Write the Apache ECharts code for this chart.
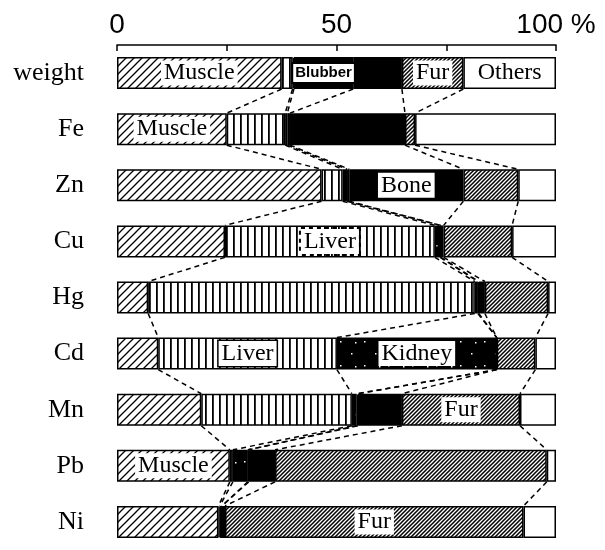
<!DOCTYPE html>
<html><head><meta charset="utf-8">
<script src="https://cdn.jsdelivr.net/npm/echarts@6/dist/echarts.min.js"></script>
<style>html,body{margin:0;padding:0;background:#fff}#c{width:605px;height:550px}</style>
</head><body><div id="c"></div>
<script>
// ---- data (percent of total) ----
const categories = ['weight','Fe','Zn','Cu','Hg','Cd','Mn','Pb','Ni'];
const tissues = ['Muscle','Liver','Kidney','Blubber','Bone','Fur','Others'];
const muscle  = [37.5, 25.0, 46.6, 24.6,  7.1,  9.4, 19.2, 25.7, 23.1];
const liver   = [ 2.5, 13.3,  4.8, 47.8, 74.4, 40.7, 34.3,  0.7,  0.3];
const kidney  = [ 0.3,  0.5,  1.0,  1.2,  0.7, 36.4,  1.1,  3.4,  0.5];
const blubber = [13.5,  0.6,  0.5,  0.2,  0.2,  0.0,  0.3,  0.2,  0.0];
const bone    = [11.1, 26.2, 26.0,  0.6,  1.4,  0.0, 10.0,  6.0,  0.7];
const fur     = [14.0,  2.3, 12.5, 15.6, 14.4,  8.8, 26.9, 61.9, 68.0];
const others  = [21.1, 32.1,  8.6, 10.0,  1.8,  4.7,  8.2,  2.1,  7.4];
const xTicks = [0, 25, 50, 75, 100];
const xTickLabels = ['0', '', '50', '', '100 %'];
const segLabels = [['weight','Muscle'],['weight','Blubber'],['weight','Fur'],['weight','Others'],
  ['Fe','Muscle'],['Zn','Bone'],['Cu','Liver'],['Cd','Liver'],['Cd','Kidney'],
  ['Mn','Fur'],['Pb','Muscle'],['Ni','Fur']];

const values = [muscle, liver, kidney, blubber, bone, fur, others];

// ---- fills ----
function hatch(size, lw) {
  const c = document.createElement('canvas'); c.width = c.height = size;
  const g = c.getContext('2d'); g.fillStyle = '#fff'; g.fillRect(0, 0, size, size);
  g.strokeStyle = '#000'; g.lineWidth = lw; g.beginPath();
  g.moveTo(-1, size + 1); g.lineTo(size + 1, -1);
  g.moveTo(-1, 1); g.lineTo(1, -1);
  g.moveTo(size - 1, size + 1); g.lineTo(size + 1, size - 1);
  g.stroke(); return c;
}
function vlines(w, lw) {
  const c = document.createElement('canvas'); c.width = w; c.height = 4;
  const g = c.getContext('2d'); g.fillStyle = '#fff'; g.fillRect(0, 0, w, 4);
  g.fillStyle = '#000'; g.fillRect(2, 0, lw, 4); return c;
}
function speckle() {
  const c = document.createElement('canvas'); c.width = c.height = 24;
  const g = c.getContext('2d'); g.fillStyle = '#000'; g.fillRect(0, 0, 24, 24);
  g.fillStyle = '#fff';
  [[4,5],[15,17],[19,6]].forEach(p => g.fillRect(p[0], p[1], 1.5, 1.5));
  return c;
}
const fills = [
  {image: hatch(8, 1.3), repeat: 'repeat'},
  {image: vlines(7, 1.8), repeat: 'repeat'},
  {image: speckle(), repeat: 'repeat'},
  '#000', '#000',
  {image: hatch(4, 1.5), repeat: 'repeat'},
  '#fff'
];

const BAR_W = 32;
const baseLabel = {show: true, position: 'inside', formatter: '{a}', fontFamily: 'Liberation Serif',
  fontSize: 24, color: '#000', backgroundColor: '#fff', padding: [1, 3, 0, 3]};
function labelFor(cat, t) {
  if (!segLabels.some(p => p[0] === cat && p[1] === t)) return undefined;
  if (t === 'Blubber') return Object.assign({}, baseLabel, {fontFamily: 'Liberation Sans', fontWeight: 'bold',
    fontSize: 15, borderColor: '#000', borderWidth: 2, padding: [2, 2, 1, 2]});
  if (cat === 'Cu' && t === 'Liver') return Object.assign({}, baseLabel, {borderColor: '#000', borderWidth: 2, borderType: 'dotted'});
  if (cat === 'Cd' && t === 'Liver') return Object.assign({}, baseLabel, {borderColor: '#000', borderWidth: 1.5});
  return baseLabel;
}

const barSeries = tissues.map((t, s) => ({
  type: 'bar', name: t, stack: 'total', barWidth: BAR_W,
  itemStyle: {color: fills[s], borderColor: '#000', borderWidth: 1.5},
  data: values[s].map((v, i) => {
    const lab = labelFor(categories[i], t);
    return lab ? {value: v, label: lab} : {value: v};
  })
}));

// cumulative boundaries for connector lines
const cum = categories.map((c, i) => {
  let acc = 0; return values.map(arr => (acc += arr[i]));
});
const links = [];
for (let i = 0; i < categories.length - 1; i++) {
  for (let k = 0; k < tissues.length - 1; k++) {
    if (k > 0 && values[k][i] === 0 && values[k][i + 1] === 0) continue;
    links.push([cum[i][k], i, cum[i + 1][k], i + 1]);
  }
}

const linkSeries = {
  type: 'custom', silent: true, data: links, encode: {x: [0, 2], y: [1, 3]},
  renderItem: function (params, api) {
    const p1 = api.coord([api.value(0), api.value(1)]);
    const p2 = api.coord([api.value(2), api.value(3)]);
    const h = BAR_W / 2;
    return {type: 'line', shape: {x1: p1[0], y1: p1[1] + h, x2: p2[0], y2: p2[1] - h},
      style: {stroke: '#000', lineWidth: 1.5, lineDash: [5, 4]}};
  }
};

const chart = echarts.init(document.getElementById('c'), null, {renderer: 'canvas'});
chart.setOption({
  animation: false,
  backgroundColor: '#fff',
  grid: {left: 117, right: 49, top: 45, height: 511},
  xAxis: {
    type: 'value', position: 'top', min: 0, max: 100, interval: 25,
    splitLine: {show: false},
    axisLine: {show: true, lineStyle: {color: '#000', width: 1.5}},
    axisTick: {show: true, inside: true, length: 6, lineStyle: {color: '#000', width: 1.5}},
    axisLabel: {formatter: v => xTickLabels[xTicks.indexOf(v)] || '', fontFamily: 'Liberation Sans',
      fontSize: 28, color: '#000', margin: 6, showMaxLabel: true, showMinLabel: true}
  },
  yAxis: {
    type: 'category', data: categories, inverse: true,
    axisLine: {show: false}, axisTick: {show: false}, splitLine: {show: false},
    axisLabel: {fontFamily: 'Liberation Serif', fontSize: 26, color: '#000', margin: 33}
  },
  series: barSeries.concat([linkSeries])
});
</script></body></html>
